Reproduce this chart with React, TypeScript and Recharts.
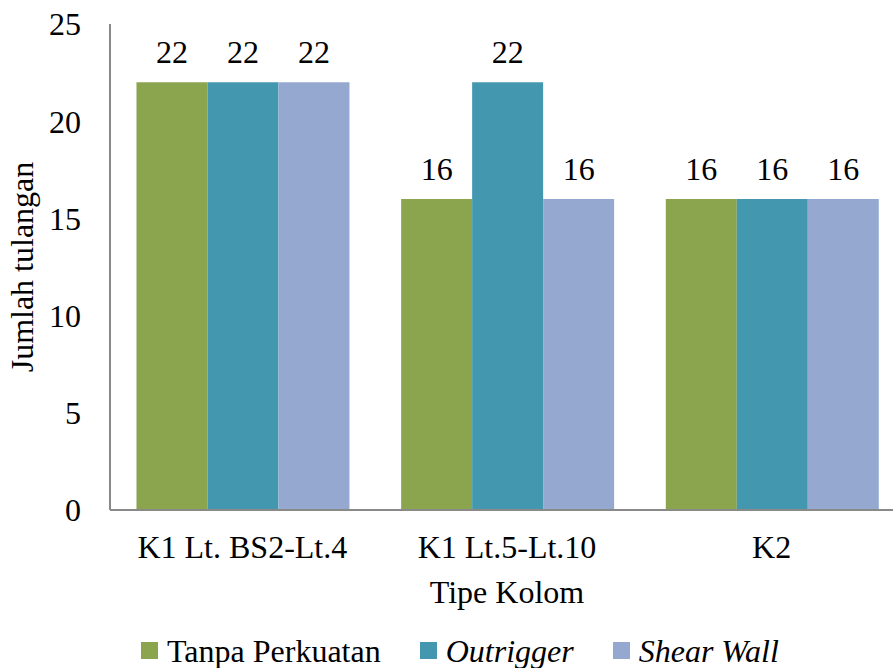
import React from "react"
import { BarChart, Bar, XAxis, YAxis, Legend, LabelList } from "recharts"

const categories = ["K1 Lt. BS2-Lt.4", "K1 Lt.5-Lt.10", "K2"]
const tanpaPerkuatan = [22, 16, 16]
const outrigger = [22, 22, 16]
const shearWall = [22, 16, 16]
const yTicks = [0, 5, 10, 15, 20, 25]

const seriesInfo = [
  { key: "tanpa", name: "Tanpa Perkuatan", color: "#8BA54F", italic: false },
  { key: "outrigger", name: "Outrigger", color: "#4398B0", italic: true },
  { key: "shear", name: "Shear Wall", color: "#95A9D0", italic: true },
]

const data = categories.map((c, i) => ({
  name: c,
  tanpa: tanpaPerkuatan[i],
  outrigger: outrigger[i],
  shear: shearWall[i],
}))

const FONT = "'Liberation Serif', 'Times New Roman', serif"
const AXIS = "#898989"
const FS = 32

function LegendContent() {
  return (
    <div
      style={{
        height: 58,
        display: "flex",
        alignItems: "center",
        paddingTop: 23,
        paddingLeft: 141,
        boxSizing: "border-box",
        fontFamily: FONT,
        fontSize: FS,
        lineHeight: 1,
        color: "#000",
      }}
    >
      {seriesInfo.map((s, i) => (
        <div key={s.key} style={{ display: "flex", alignItems: "center", marginRight: i < 2 ? 39 : 0 }}>
          <span style={{ width: 17, height: 17, background: s.color, display: "inline-block", marginRight: 9 }} />
          <span style={{ fontStyle: s.italic ? "italic" : "normal", whiteSpace: "nowrap" }}>{s.name}</span>
        </div>
      ))}
    </div>
  )
}

export default function App() {
  return (
    <div style={{ position: "absolute", left: 0, top: 0, width: 893, height: 668, overflow: "hidden", background: "#fff" }}>
      <BarChart
        width={904}
        height={668}
        data={data}
        margin={{ top: 24, right: 0, bottom: 0, left: 0 }}
        barCategoryGap="10%"
        barGap={0}
      >
        <XAxis
          dataKey="name"
          height={100}
          tickLine={false}
          tickSize={0}
          tickMargin={25}
          stroke={AXIS}
          strokeWidth={2}
          tick={{ fill: "#000", fontSize: FS, fontFamily: FONT }}
          label={{ value: "Tipe Kolom", position: "insideBottom", offset: 7, fill: "#000", fontSize: FS, fontFamily: FONT }}
        />
        <YAxis
          width={110}
          domain={[0, 25]}
          ticks={yTicks}
          tickLine={false}
          tickSize={0}
          tickMargin={29}
          stroke={AXIS}
          strokeWidth={2}
          tick={{ fill: "#000", fontSize: FS, fontFamily: FONT }}
          label={{
            value: "Jumlah tulangan",
            angle: -90,
            position: "insideLeft",
            offset: 22,
            fill: "#000",
            fontSize: FS,
            fontFamily: FONT,
            style: { textAnchor: "middle" },
          }}
        />
        <Legend verticalAlign="bottom" content={<LegendContent />} />
        {seriesInfo.map((s) => (
          <Bar key={s.key} dataKey={s.key} name={s.name} fill={s.color} isAnimationActive={false}>
            <LabelList dataKey={s.key} position="top" offset={19} fill="#000" fontSize={FS} fontFamily={FONT} />
          </Bar>
        ))}
      </BarChart>
    </div>
  )
}
